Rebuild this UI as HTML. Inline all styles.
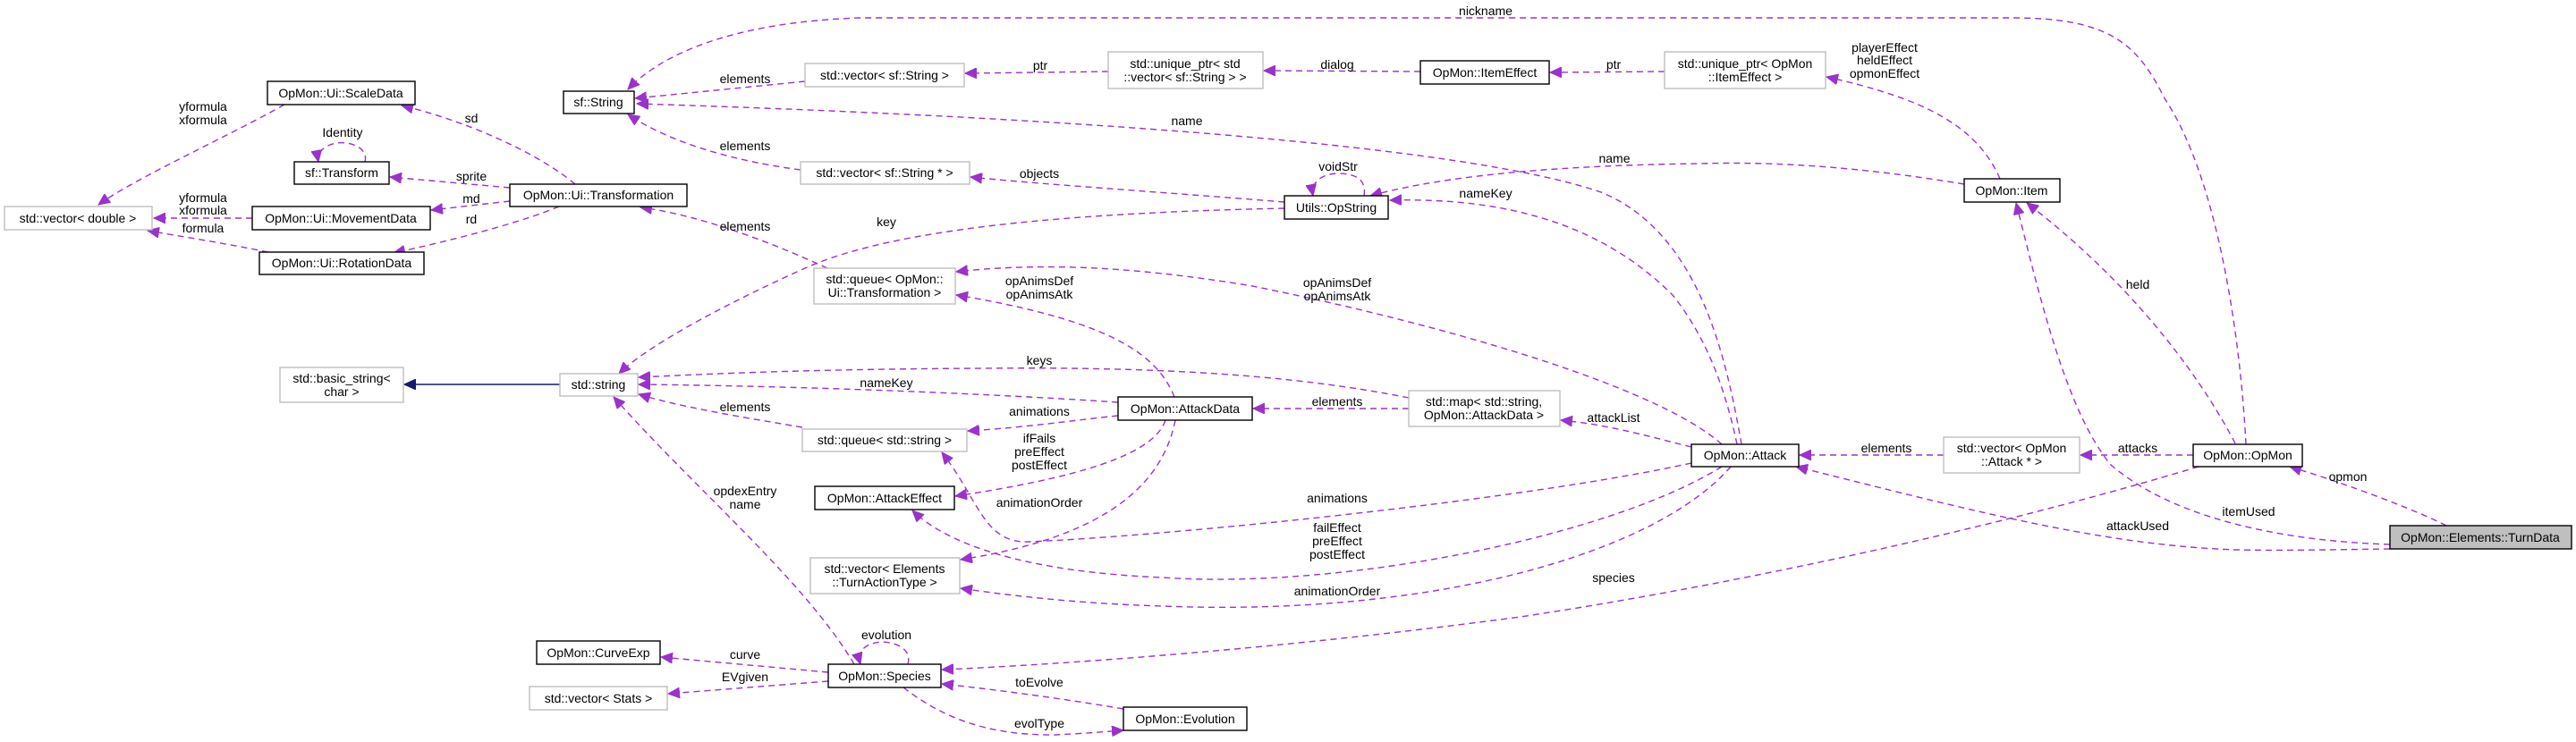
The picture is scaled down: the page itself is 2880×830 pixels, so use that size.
<!DOCTYPE html>
<html><head><meta charset="utf-8"><style>
html,body{margin:0;padding:0;background:#fff}
svg{display:block}
text{font-family:"Liberation Sans",sans-serif;font-size:14px;fill:#000}
.e{fill:none;stroke:#9a32cd;stroke-width:1.4;stroke-dasharray:7,5}
.b{fill:#fff;stroke:#000;stroke-width:1.4}
.g{fill:#fff;stroke:#bfbfbf;stroke-width:1.4}
</style></head><body>
<svg width="2880" height="830" viewBox="0 0 2880 830" xmlns="http://www.w3.org/2000/svg">
<defs>
<marker id="a" markerUnits="userSpaceOnUse" markerWidth="14" markerHeight="12" refX="13" refY="6" orient="auto"><path d="M0,0 L13,6 L0,12 z" fill="#9a32cd" stroke="#9a32cd"/></marker>
<marker id="n" markerUnits="userSpaceOnUse" markerWidth="14" markerHeight="12" refX="13" refY="6" orient="auto"><path d="M0,0 L13,6 L0,12 z" fill="#191970" stroke="#191970"/></marker>
</defs>
<g marker-end="url(#a)">
<path class="e" d="M318,117 C260,150 150,200 110,229"/>
<path class="e" d="M282,244 L172,244"/>
<path class="e" d="M300,282 C250,272 200,264 165,258"/>
<path class="e" d="M408,181 C412,165 392,158 376,160 C362,163 354,170 356,181"/>
<path class="e" d="M643,206 C600,170 520,135 449,118"/>
<path class="e" d="M570,210 L436,198"/>
<path class="e" d="M570,225 L482,235"/>
<path class="e" d="M625,231 C580,250 500,270 440,283"/>
<path class="e" d="M900,91 L710,110"/>
<path class="e" d="M895,190 C820,180 750,160 702,128"/>
<path class="e" d="M925,300 C860,270 780,240 716,232"/>
<path class="e" d="M1239,80 L1079,82"/>
<path class="e" d="M1588,80 L1413,79"/>
<path class="e" d="M1861,80 L1733,81"/>
<path class="e" d="M2236,200 C2210,140 2150,110 2042,86"/>
<path class="e" d="M2511,497 C2505,380 2480,200 2420,110 C2390,50 2360,20 2250,20 L960,20 C820,25 740,60 702,100"/>
<path class="e" d="M1947,497 C1930,400 1900,260 1790,215 C1600,150 1000,125 712,116"/>
<path class="e" d="M1436,226 C1300,215 1150,205 1085,198"/>
<path class="e" d="M1525,219 C1528,200 1515,194 1495,194 C1478,195 1465,203 1468,219"/>
<path class="e" d="M2196,206 C2100,190 2000,180 1900,183 C1750,185 1620,195 1532,219"/>
<path class="e" d="M1942,497 C1930,440 1910,380 1870,330 C1800,260 1700,220 1554,224"/>
<path class="e" d="M1436,233 C1200,238 1000,255 900,300 C800,345 720,390 692,418"/>
<path class="e" d="M1313,444 C1295,400 1250,360 1069,330"/>
<path class="e" d="M1925,497 C1850,430 1600,360 1400,320 C1250,295 1150,295 1069,304"/>
<path class="e" d="M1575,445 C1450,420 1300,410 1100,412 C900,413 800,418 714,422"/>
<path class="e" d="M1250,450 C1100,440 900,432 714,430"/>
<path class="e" d="M897,478 C820,465 760,455 714,441"/>
<path class="e" d="M955,743 C900,650 780,550 686,444"/>
<path class="e" d="M1250,465 C1200,470 1150,478 1082,482"/>
<path class="e" d="M1303,470 C1290,510 1200,535 1068,555"/>
<path class="e" d="M1314,470 C1300,540 1240,600 1074,626"/>
<path class="e" d="M1575,457 L1401,457"/>
<path class="e" d="M1891,500 C1850,490 1800,475 1745,470"/>
<path class="e" d="M1891,518 C1700,560 1300,600 1150,606 C1100,608 1095,560 1053,506"/>
<path class="e" d="M1925,522 C1800,600 1500,660 1300,646 C1150,640 1060,610 1020,571"/>
<path class="e" d="M1935,522 C1850,620 1600,690 1300,678 C1200,675 1120,665 1074,658"/>
<path class="e" d="M2458,522 C2200,600 1900,660 1700,690 C1400,730 1150,745 1053,749"/>
<path class="e" d="M1015,743 C1020,725 1000,718 985,718 C965,720 958,730 962,743"/>
<path class="e" d="M926,752 L739,735"/>
<path class="e" d="M926,762 L747,776"/>
<path class="e" d="M1256,793 C1180,780 1100,770 1053,765"/>
<path class="e" d="M1010,769 C1050,800 1100,823 1180,822 C1220,820 1240,818 1256,817"/>
<path class="e" d="M2173,509 L2012,509"/>
<path class="e" d="M2452,509 L2326,509"/>
<path class="e" d="M2499,496 C2470,440 2400,330 2266,227"/>
<path class="e" d="M2672,609 C2550,605 2430,580 2360,520 C2310,460 2280,330 2254,227"/>
<path class="e" d="M2672,614 C2600,615 2550,616 2500,615 C2350,610 2200,570 2008,522"/>
<path class="e" d="M2735,588 C2700,570 2620,540 2560,522"/>
</g>
<path d="M626,430 L452,430" stroke="#191970" stroke-width="1.4" fill="none" marker-end="url(#n)"/>

<g>
<rect class="b" x="299" y="91" width="165" height="26"/>
<rect class="b" x="329" y="181" width="106" height="25"/>
<rect class="g" x="5" y="231" width="165" height="26"/>
<rect class="b" x="282" y="231" width="199" height="26"/>
<rect class="b" x="290" y="282" width="184" height="25"/>
<rect class="b" x="570" y="206" width="198" height="25"/>
<rect class="b" x="630" y="102" width="79" height="25"/>
<rect class="g" x="900" y="71" width="178" height="26"/>
<rect class="g" x="1239" y="58" width="173" height="41"/>
<rect class="b" x="1588" y="68" width="144" height="26"/>
<rect class="g" x="1861" y="58" width="180" height="41"/>
<rect class="g" x="895" y="181" width="189" height="25"/>
<rect class="b" x="1436" y="219" width="116" height="26"/>
<rect class="g" x="910" y="300" width="158" height="40"/>
<rect class="b" x="2196" y="200" width="107" height="26"/>
<rect class="g" x="313" y="411" width="138" height="39"/>
<rect class="g" x="626" y="418" width="87" height="25"/>
<rect class="g" x="897" y="480" width="184" height="25"/>
<rect class="b" x="911" y="544" width="156" height="26"/>
<rect class="g" x="906" y="624" width="167" height="40"/>
<rect class="b" x="926" y="743" width="126" height="26"/>
<rect class="b" x="600" y="717" width="138" height="26"/>
<rect class="g" x="592" y="768" width="154" height="26"/>
<rect class="b" x="1250" y="444" width="150" height="26"/>
<rect class="g" x="1575" y="437" width="169" height="40"/>
<rect class="b" x="1891" y="497" width="120" height="25"/>
<rect class="b" x="1256" y="791" width="138" height="26"/>
<rect class="g" x="2173" y="489" width="152" height="40"/>
<rect class="b" x="2452" y="497" width="122" height="25"/>
<rect x="2672" y="588" width="203" height="26" fill="#bfbfbf" stroke="#000" stroke-width="1.4"/>
</g>

<g text-anchor="middle" dominant-baseline="central">
<text x="381" y="104">OpMon::Ui::ScaleData</text>
<text x="382" y="193">sf::Transform</text>
<text x="87" y="244">std::vector&lt; double &gt;</text>
<text x="381" y="244">OpMon::Ui::MovementData</text>
<text x="382" y="294">OpMon::Ui::RotationData</text>
<text x="669" y="218">OpMon::Ui::Transformation</text>
<text x="669" y="114">sf::String</text>
<text x="989" y="84">std::vector&lt; sf::String &gt;</text>
<text x="1325" y="71">std::unique_ptr&lt; std</text>
<text x="1325" y="86">::vector&lt; sf::String &gt; &gt;</text>
<text x="1660" y="81">OpMon::ItemEffect</text>
<text x="1951" y="71">std::unique_ptr&lt; OpMon</text>
<text x="1951" y="86">::ItemEffect &gt;</text>
<text x="989" y="193">std::vector&lt; sf::String * &gt;</text>
<text x="1494" y="232">Utils::OpString</text>
<text x="989" y="312">std::queue&lt; OpMon::</text>
<text x="989" y="327">Ui::Transformation &gt;</text>
<text x="2249" y="213">OpMon::Item</text>
<text x="382" y="423">std::basic_string&lt;</text>
<text x="382" y="438">char &gt;</text>
<text x="669" y="430">std::string</text>
<text x="989" y="492">std::queue&lt; std::string &gt;</text>
<text x="989" y="557">OpMon::AttackEffect</text>
<text x="989" y="636">std::vector&lt; Elements</text>
<text x="989" y="651">::TurnActionType &gt;</text>
<text x="989" y="756">OpMon::Species</text>
<text x="669" y="730">OpMon::CurveExp</text>
<text x="669" y="781">std::vector&lt; Stats &gt;</text>
<text x="1325" y="457">OpMon::AttackData</text>
<text x="1659" y="449">std::map&lt; std::string,</text>
<text x="1659" y="464">OpMon::AttackData &gt;</text>
<text x="1951" y="509">OpMon::Attack</text>
<text x="1325" y="804">OpMon::Evolution</text>
<text x="2249" y="501">std::vector&lt; OpMon</text>
<text x="2249" y="516">::Attack * &gt;</text>
<text x="2513" y="509">OpMon::OpMon</text>
<text x="2773" y="601">OpMon::Elements::TurnData</text>

<text x="227" y="119">yformula</text><text x="227" y="134">xformula</text>
<text x="383" y="148">Identity</text>
<text x="527" y="132">sd</text>
<text x="527" y="197">sprite</text>
<text x="527" y="222">md</text>
<text x="527" y="245">rd</text>
<text x="227" y="221">yformula</text><text x="227" y="235">xformula</text><text x="227" y="255">formula</text>
<text x="833" y="88">elements</text>
<text x="833" y="163">elements</text>
<text x="833" y="253">elements</text>
<text x="1661" y="12">nickname</text>
<text x="1163" y="73">ptr</text>
<text x="1495" y="72">dialog</text>
<text x="1804" y="72">ptr</text>
<text x="2107" y="53">playerEffect</text><text x="2107" y="67">heldEffect</text><text x="2107" y="82">opmonEffect</text>
<text x="1327" y="135">name</text>
<text x="1162" y="194">objects</text>
<text x="1496" y="186">voidStr</text>
<text x="1805" y="177">name</text>
<text x="1661" y="216">nameKey</text>
<text x="991" y="248">key</text>
<text x="1162" y="314">opAnimsDef</text><text x="1162" y="329">opAnimsAtk</text>
<text x="1495" y="316">opAnimsDef</text><text x="1495" y="331">opAnimsAtk</text>
<text x="2390" y="318">held</text>
<text x="1162" y="403">keys</text>
<text x="991" y="428">nameKey</text>
<text x="833" y="455">elements</text>
<text x="1162" y="460">animations</text>
<text x="1162" y="490">ifFails</text><text x="1162" y="505">preEffect</text><text x="1162" y="520">postEffect</text>
<text x="1162" y="562">animationOrder</text>
<text x="1495" y="449">elements</text>
<text x="1804" y="467">attackList</text>
<text x="1495" y="557">animations</text>
<text x="1495" y="590">failEffect</text><text x="1495" y="605">preEffect</text><text x="1495" y="620">postEffect</text>
<text x="1495" y="661">animationOrder</text>
<text x="1804" y="646">species</text>
<text x="833" y="549">opdexEntry</text><text x="833" y="564">name</text>
<text x="833" y="732">curve</text>
<text x="833" y="757">EVgiven</text>
<text x="991" y="710">evolution</text>
<text x="1162" y="763">toEvolve</text>
<text x="1162" y="809">evolType</text>
<text x="2109" y="501">elements</text>
<text x="2390" y="501">attacks</text>
<text x="2625" y="533">opmon</text>
<text x="2514" y="572">itemUsed</text>
<text x="2390" y="588">attackUsed</text>
</g>
</svg>
</body></html>
